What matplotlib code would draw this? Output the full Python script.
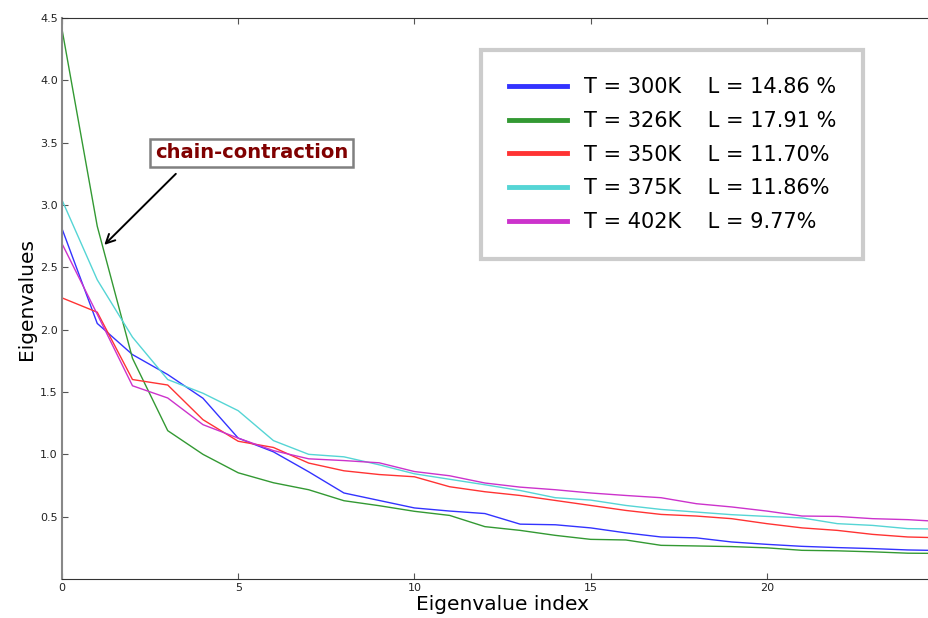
import matplotlib
matplotlib.use('Agg')
import matplotlib.pyplot as plt

# eigenvalue spectra for each temperature
index = list(range(26))
eig_300 = [2.81, 2.05, 1.80, 1.64, 1.45, 1.13, 1.02, 0.86, 0.69, 0.63, 0.57, 0.545, 0.525,
           0.44, 0.435, 0.41, 0.37, 0.337, 0.33, 0.297, 0.278, 0.262, 0.252, 0.244, 0.233, 0.228]
eig_326 = [4.41, 2.83, 1.77, 1.19, 1.00, 0.852, 0.772, 0.716, 0.628, 0.588, 0.543, 0.51, 0.42,
           0.39, 0.35, 0.318, 0.313, 0.27, 0.265, 0.26, 0.25, 0.23, 0.226, 0.218, 0.207, 0.205]
eig_350 = [2.255, 2.14, 1.60, 1.556, 1.278, 1.105, 1.055, 0.93, 0.868, 0.838, 0.82, 0.74, 0.70,
           0.67, 0.63, 0.59, 0.55, 0.518, 0.505, 0.484, 0.444, 0.41, 0.39, 0.358, 0.337, 0.33]
eig_375 = [3.04, 2.40, 1.94, 1.60, 1.49, 1.35, 1.11, 1.00, 0.98, 0.916, 0.844, 0.80, 0.756,
           0.71, 0.652, 0.633, 0.59, 0.558, 0.537, 0.516, 0.502, 0.49, 0.444, 0.43, 0.404, 0.40]
eig_402 = [2.69, 2.124, 1.55, 1.452, 1.238, 1.13, 1.03, 0.964, 0.95, 0.932, 0.862, 0.828, 0.77,
           0.737, 0.716, 0.69, 0.67, 0.652, 0.604, 0.578, 0.545, 0.505, 0.502, 0.484, 0.476, 0.46]

series = [eig_300, eig_326, eig_350, eig_375, eig_402]
labels = ['T = 300K    L = 14.86 %',
          'T = 326K    L = 17.91 %',
          'T = 350K    L = 11.70%',
          'T = 375K    L = 11.86%',
          'T = 402K    L = 9.77%']
colors = ['#3333ff', '#339933', '#ff3333', '#55d5d5', '#cc33cc']

fig = plt.figure(figsize=(9.29, 6.18), dpi=100)
ax = fig.add_axes([62 / 929, 39 / 618, 881 / 929, 561 / 618])

for ys, lab, col in zip(series, labels, colors):
    ax.plot(index, ys, color=col, lw=1.0, label=lab)

ax.set_xlim(0, 25)
ax.set_ylim(0.0, 4.5)
ax.set_xticks([0, 5, 10, 15, 20])
ax.set_yticks([0.5, 1.0, 1.5, 2.0, 2.5, 3.0, 3.5, 4.0, 4.5])
ax.tick_params(direction='in', top=True, right=True, labelsize=8, length=4,
               color='#555555', labelcolor='#222222', pad=3)
ax.spines['left'].set_color('#888888')
ax.spines['left'].set_linewidth(1.5)
for s in ['bottom', 'top', 'right']:
    ax.spines[s].set_color('#333333')

ax.set_xlabel('Eigenvalue index', fontsize=14.5, labelpad=1)
ax.set_ylabel('Eigenvalues', fontsize=14.5, labelpad=3)

leg = ax.legend(loc='upper right', bbox_to_anchor=(863 / 929, 1 - 50 / 618),
                bbox_transform=fig.transFigure, fontsize=15, frameon=True,
                fancybox=False, borderpad=1.3, labelspacing=0.66,
                handlelength=2.8, handletextpad=0.8, borderaxespad=0)
leg.get_frame().set_edgecolor('#c0c0c0')
leg.get_frame().set_linewidth(3)
for line in leg.get_lines():
    line.set_linewidth(3.5)

ax.text(5.39, 3.418, 'chain-contraction', fontsize=14, fontweight='bold',
        color='#800000', ha='center', va='center',
        bbox=dict(boxstyle='square,pad=0.25', fc='white', ec='#808080', lw=1.8))
ax.annotate('', xy=(1.2, 2.68), xytext=(3.23, 3.25),
            arrowprops=dict(arrowstyle='->', color='black', lw=1.4,
                            mutation_scale=16, shrinkA=0, shrinkB=0))

fig.savefig('out.png', dpi=100)
